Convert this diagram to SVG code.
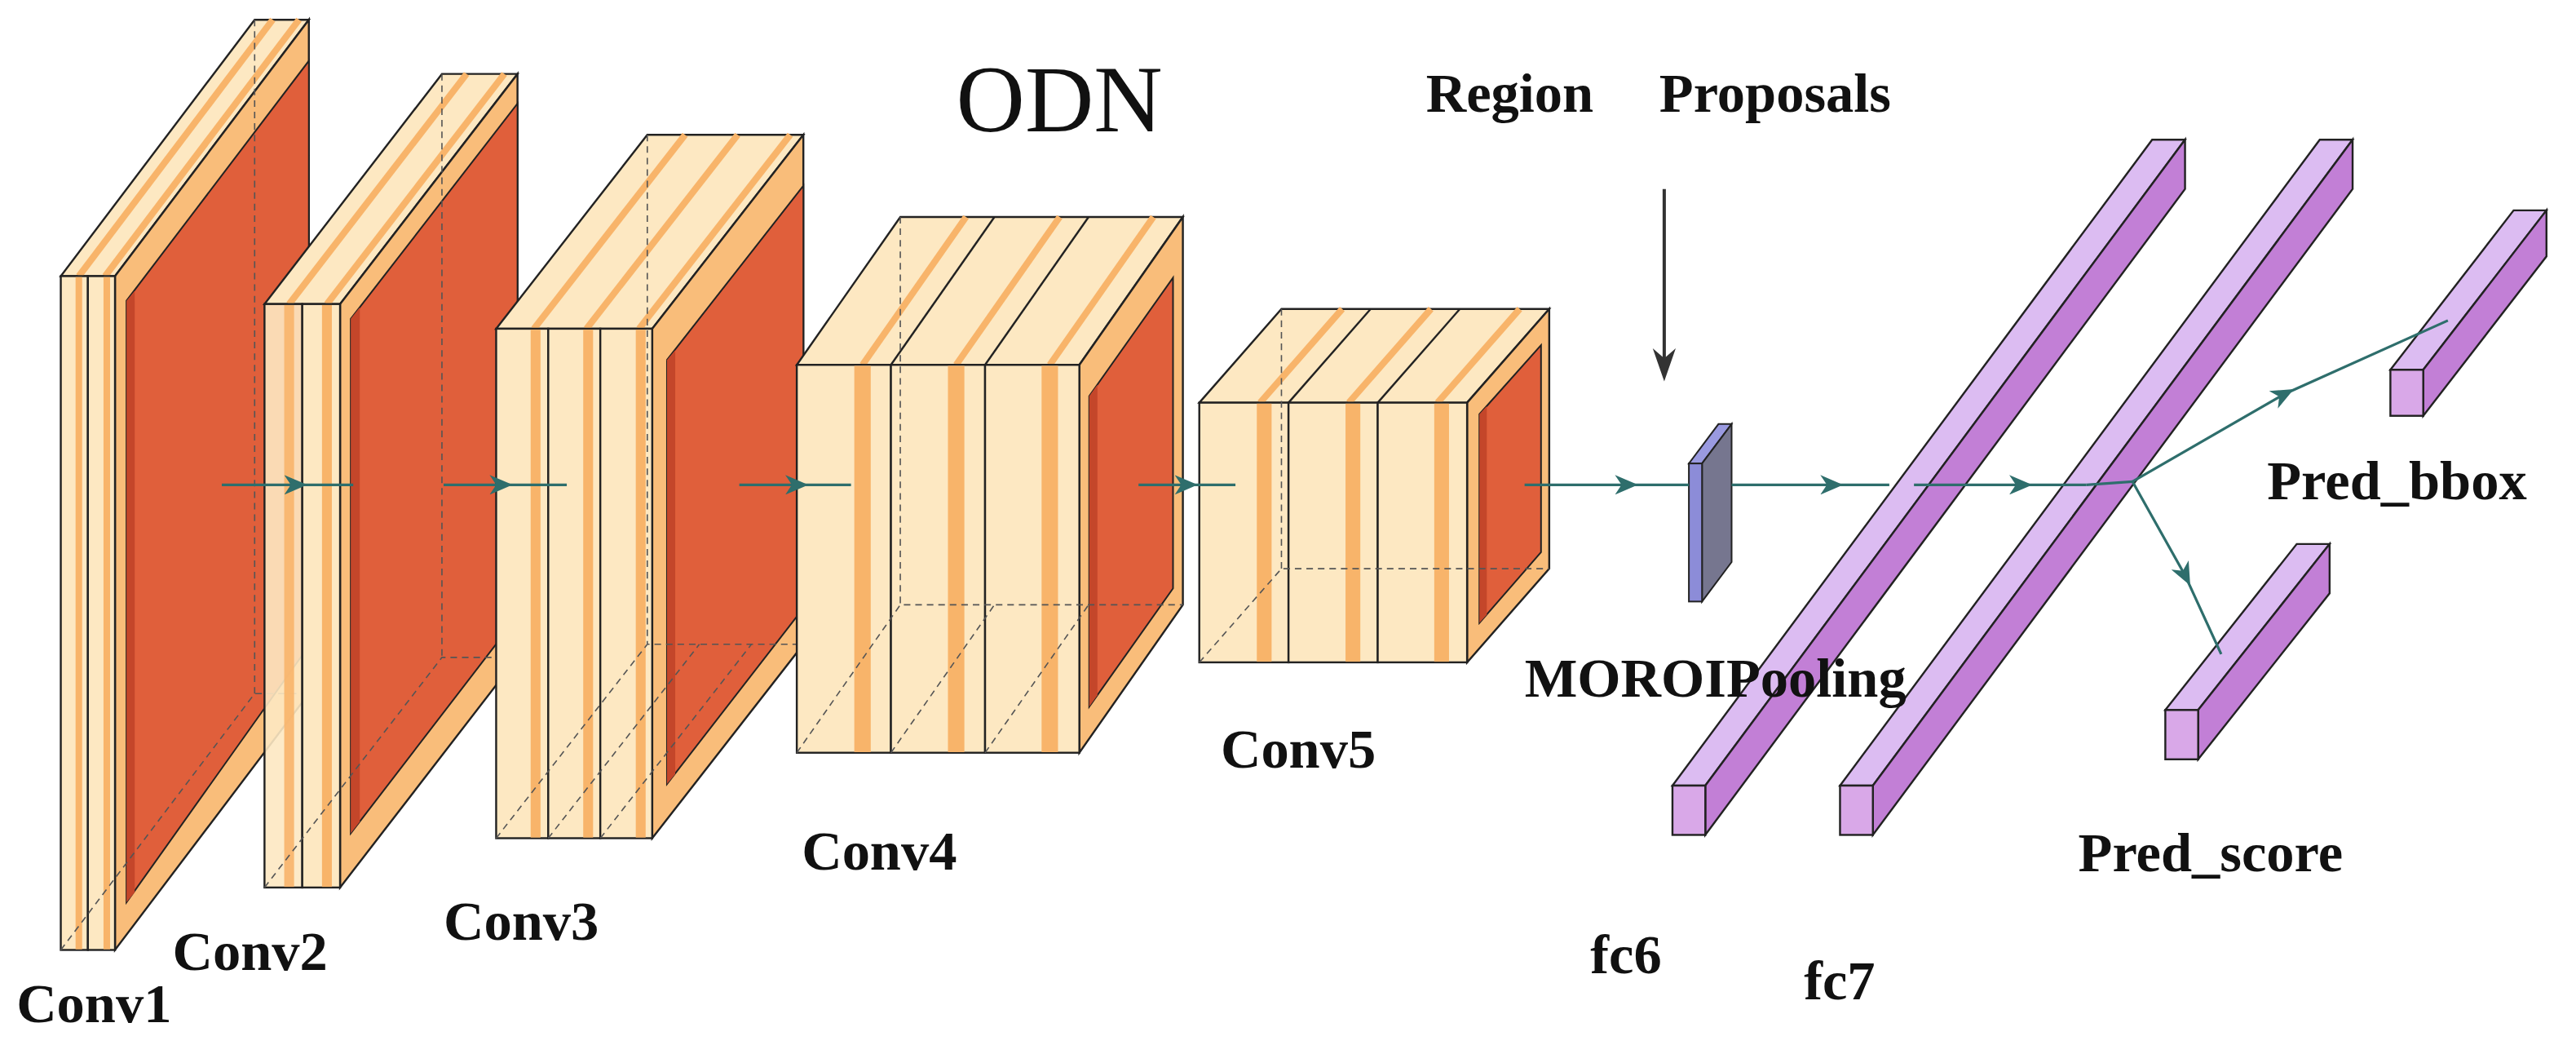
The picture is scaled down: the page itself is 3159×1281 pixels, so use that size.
<svg xmlns="http://www.w3.org/2000/svg" width="3159" height="1281" viewBox="0 0 3159 1281">
<defs>
<style>
.cr{fill:#fde8c2;stroke:#222;stroke-width:1.2}
.st{fill:#f8b46a}
.sl{stroke:#f8b46a;stroke-width:4}
.rf{fill:#f9bd7a;stroke:#222;stroke-width:1.2}
.red{fill:#e05f3b;stroke:#222;stroke-width:1}
.redl{fill:#c4462a}
.dash{fill:none;stroke:#555;stroke-width:0.8;stroke-dasharray:4 3}
.pf{fill:#d9a8e8;stroke:#222;stroke-width:1.2}
.pt{fill:#dcbcf2;stroke:#222;stroke-width:1.2}
.ps{fill:#c27fd6;stroke:#222;stroke-width:1.2}
.con{fill:none;stroke:#2e6e6c;stroke-width:1.6;marker-mid:url(#ah)}
.lb{font-family:"Liberation Serif",serif;font-weight:bold;font-size:34px;fill:#111}
</style>
<marker id="ah" markerUnits="userSpaceOnUse" markerWidth="14" markerHeight="12" refX="7" refY="6" orient="auto"><path d="M0,0 L14,6 L0,12 L4,6 z" fill="#2e6e6c"/></marker>
</defs>
<rect width="3159" height="1281" fill="#fff"/>
<g transform="scale(2.0147)">
<g id="conv1">
<polygon class="cr" points="37,168 70,168 188,12 155,12"/>
<line class="sl" x1="48" y1="168" x2="166" y2="12"/><line class="sl" x1="64" y1="168" x2="182" y2="12"/>
<polygon class="rf" points="70,168 188,12 188,422 70,578"/>
<polygon class="red" points="77,183 188,37 188,393 77,549"/>
<polygon class="redl" points="77,183 82,177 82,543 77,549"/>
<rect class="cr" x="37" y="168" width="16.5" height="410"/><rect class="st" x="46" y="168.6" width="4" height="409"/>
<rect class="cr" x="53.5" y="168" width="16.5" height="410"/><rect class="st" x="63" y="168.6" width="4" height="409"/>
<polyline class="dash" points="37,578 155,422 188,422"/><line class="dash" x1="155" y1="12" x2="155" y2="422"/>
</g>
<g id="conv2">
<polygon class="cr" points="161,185 207,185 315,45 269,45"/>
<line class="sl" x1="176" y1="185" x2="284" y2="45"/><line class="sl" x1="199" y1="185" x2="307" y2="45"/>
<polygon class="rf" points="207,185 315,45 315,400 207,540"/>
<polygon class="red" points="213.5,194 315,63 315,375 213.5,507"/>
<polygon class="redl" points="213.5,194 219,187 219,500 213.5,507"/>
<rect class="cr" x="161" y="185" width="23" height="355" fill-opacity="0.9"/><rect class="st" x="173" y="185.6" width="6" height="354" opacity="0.9"/>
<rect class="cr" x="184" y="185" width="23" height="355"/><rect class="st" x="196" y="185.6" width="6" height="354"/>
<polyline class="dash" points="161,540 269,400 315,400"/><line class="dash" x1="269" y1="45" x2="269" y2="400"/>
</g>
<g id="conv3">
<polygon class="cr" points="302,200 397,200 489,82 394,82"/>
<line class="sl" x1="325" y1="200" x2="417" y2="82"/><line class="sl" x1="357" y1="200" x2="449" y2="82"/><line class="sl" x1="389" y1="200" x2="481" y2="82"/>
<polygon class="rf" points="397,200 489,82 489,392 397,510"/>
<polygon class="red" points="406,219 489,113 489,370 406,477"/>
<polygon class="redl" points="406,219 411,213 411,471 406,477"/>
<rect class="cr" x="302" y="200" width="31.7" height="310"/><rect class="st" x="323" y="200.6" width="6" height="309"/>
<rect class="cr" x="333.7" y="200" width="31.7" height="310"/><rect class="st" x="355" y="200.6" width="6" height="309"/>
<rect class="cr" x="365.4" y="200" width="31.6" height="310"/><rect class="st" x="387" y="200.6" width="6" height="309"/>
<polyline class="dash" points="302,510 394,392 489,392"/><line class="dash" x1="394" y1="82" x2="394" y2="392"/>
<line class="dash" x1="333.7" y1="510" x2="425.7" y2="392"/><line class="dash" x1="365.4" y1="510" x2="457.4" y2="392"/>
</g>
<g id="conv4">
<polygon class="cr" points="485,222 657,222 720,132 548,132"/>
<line class="sl" x1="525" y1="222" x2="588" y2="132"/><line class="sl" x1="582" y1="222" x2="645" y2="132"/><line class="sl" x1="639" y1="222" x2="702" y2="132"/>
<line x1="542.3" y1="222" x2="605.3" y2="132" stroke="#222" stroke-width="1.2"/><line x1="599.6" y1="222" x2="662.6" y2="132" stroke="#222" stroke-width="1.2"/>
<polygon class="rf" points="657,222 720,132 720,368 657,458"/>
<polygon class="red" points="663,241 714,169 714,358 663,430"/>
<polygon class="redl" points="663,241 668,234 668,423 663,430"/>
<rect class="cr" x="485" y="222" width="57.3" height="236"/><rect class="st" x="520" y="222.6" width="10" height="235"/>
<rect class="cr" x="542.3" y="222" width="57.3" height="236"/><rect class="st" x="577" y="222.6" width="10" height="235"/>
<rect class="cr" x="599.6" y="222" width="57.4" height="236"/><rect class="st" x="634" y="222.6" width="10" height="235"/>
<polyline class="dash" points="485,458 548,368 720,368"/><line class="dash" x1="548" y1="132" x2="548" y2="368"/>
<line class="dash" x1="542.3" y1="458" x2="605.3" y2="368"/><line class="dash" x1="599.6" y1="458" x2="662.6" y2="368"/>
</g>
<g id="conv5">
<polygon class="cr" points="730,245 893,245 943,188 780,188"/>
<line class="sl" x1="767" y1="245" x2="817" y2="188"/><line class="sl" x1="821" y1="245" x2="871" y2="188"/><line class="sl" x1="875" y1="245" x2="925" y2="188"/>
<line x1="784.3" y1="245" x2="834.3" y2="188" stroke="#222" stroke-width="1.2"/><line x1="838.6" y1="245" x2="888.6" y2="188" stroke="#222" stroke-width="1.2"/>
<polygon class="rf" points="893,245 943,188 943,346 893,403"/>
<polygon class="red" points="900.5,252 938,210 938,336 900.5,379"/>
<polygon class="redl" points="900.5,252 905,247 905,374 900.5,379"/>
<rect class="cr" x="730" y="245" width="54.3" height="158"/><rect class="st" x="765" y="245.6" width="9" height="157"/>
<rect class="cr" x="784.3" y="245" width="54.3" height="158"/><rect class="st" x="819" y="245.6" width="9" height="157"/>
<rect class="cr" x="838.6" y="245" width="54.4" height="158"/><rect class="st" x="873" y="245.6" width="9" height="157"/>
<polyline class="dash" points="730,403 780,346 943,346"/><line class="dash" x1="780" y1="188" x2="780" y2="346"/>
</g>
<g id="roi">
<polygon points="1028,282 1036,282 1054,258 1046,258" fill="#9a9ae0" stroke="#222" stroke-width="1"/>
<polygon points="1036,282 1054,258 1054,342 1036,366" fill="#76768f" stroke="#222" stroke-width="1"/>
<rect x="1028" y="282" width="8" height="84" fill="#8c8cd8" stroke="#222" stroke-width="1"/>
</g>
<g id="proposal-arrow">
<line x1="1013" y1="115" x2="1013" y2="222" stroke="#333" stroke-width="2"/>
<path d="M1006,212 L1013,232 L1020,212 L1013,218 z" fill="#333"/>
</g>
<g id="fc6">
<polygon class="pt" points="1018,478 1038,478 1330,85 1310,85"/>
<polygon class="ps" points="1038,478 1330,85 1330,115 1038,508"/>
<rect class="pf" x="1018" y="478" width="20" height="30"/>
</g>
<g id="fc7">
<polygon class="pt" points="1120,478 1140,478 1432,85 1412,85"/>
<polygon class="ps" points="1140,478 1432,85 1432,115 1140,508"/>
<rect class="pf" x="1120" y="478" width="20" height="30"/>
</g>
<g id="pred_bbox">
<polygon class="pt" points="1455,225 1475,225 1550,128 1530,128"/>
<polygon class="ps" points="1475,225 1550,128 1550,156 1475,253"/>
<rect class="pf" x="1455" y="225" width="20" height="28"/>
</g>
<g id="pred_score">
<polygon class="pt" points="1318,432 1338,432 1418,331 1398,331"/>
<polygon class="ps" points="1338,432 1418,331 1418,361 1338,462"/>
<rect class="pf" x="1318" y="432" width="20" height="30"/>
</g>
<g id="connectors">
<polyline class="con" points="135,295 180,295 215,295"/>
<polyline class="con" points="270,295 305,295 345,295"/>
<polyline class="con" points="450,295 485,295 518,295"/>
<polyline class="con" points="693,295 722,295 752,295"/>
<polyline class="con" points="928,295 990,295 1028,295"/>
<polyline class="con" points="1054,295 1115,295 1150,295"/>
<polyline class="con" points="1165,295 1230,295 1270,295"/>
<polyline class="con" points="1270,295 1298,293"/>
<polyline class="con" points="1298,293 1390,240 1490,195"/>
<polyline class="con" points="1298,293 1330,350 1352,398"/>
</g>
<g id="labels">
<text x="582" y="80" font-family="Liberation Serif,serif" font-size="58" fill="#111">ODN</text>
<text class="lb" x="868" y="68" font-size="31">Region</text>
<text class="lb" x="1010" y="68" font-size="31">Proposals</text>
<text class="lb" x="10" y="622">Conv1</text>
<text class="lb" x="105" y="590">Conv2</text>
<text class="lb" x="270" y="572">Conv3</text>
<text class="lb" x="488" y="529">Conv4</text>
<text class="lb" x="743" y="467">Conv5</text>
<text class="lb" x="928" y="424">MOROIPooling</text>
<text class="lb" x="968" y="592">fc6</text>
<text class="lb" x="1098" y="608">fc7</text>
<text class="lb" x="1265" y="530">Pred_score</text>
<text class="lb" x="1380" y="304">Pred_bbox</text>
</g>
</g>
</svg>
